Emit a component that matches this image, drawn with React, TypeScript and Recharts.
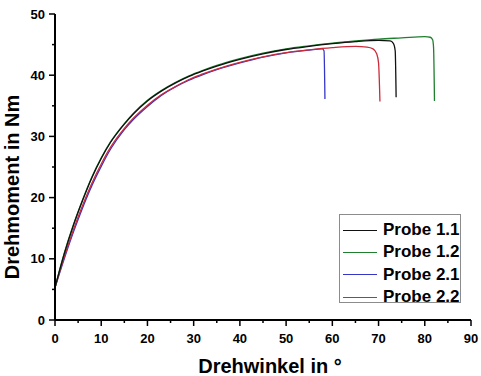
import { LineChart, Line, XAxis, YAxis, Label } from 'recharts';

// angle (°) and torque (Nm)
const probe11Angle = [0, 2, 4, 6, 8, 10, 12, 15, 17, 20, 23, 26, 29, 32, 35, 40, 45, 50, 55, 60, 65, 70, 72.5, 73.2, 73.6, 73.8];
const probe11Torque = [5.3, 10.8, 15.5, 19.6, 23.3, 26.4, 29.0, 32.0, 33.7, 35.8, 37.4, 38.7, 39.8, 40.7, 41.5, 42.6, 43.5, 44.2, 44.7, 45.15, 45.5, 45.7, 45.6, 45.2, 44.0, 36.4];

const probe12Angle = [0, 2, 4, 6, 8, 10, 12, 15, 17, 20, 23, 26, 29, 32, 35, 40, 45, 50, 55, 60, 65, 70, 75, 80, 81.2, 81.7, 81.9, 82.1];
const probe12Torque = [5.3, 10.9, 15.6, 19.7, 23.4, 26.5, 29.1, 32.1, 33.8, 35.9, 37.5, 38.8, 39.9, 40.8, 41.6, 42.7, 43.6, 44.3, 44.8, 45.25, 45.6, 45.9, 46.1, 46.3, 46.2, 45.8, 44.5, 35.8];

const probe21Angle = [0, 2, 4, 6, 8, 10, 12, 15, 17, 20, 23, 26, 29, 32, 35, 40, 45, 50, 55, 57.8, 58.2, 58.4];
const probe21Torque = [5.3, 10.0, 14.4, 18.4, 22.0, 25.1, 27.9, 31.1, 32.8, 34.9, 36.7, 38.1, 39.2, 40.1, 40.9, 42.0, 42.95, 43.65, 44.1, 44.3, 44.0, 36.1];

const probe22Angle = [0, 2, 4, 6, 8, 10, 12, 15, 17, 20, 23, 26, 29, 32, 35, 40, 45, 50, 55, 60, 65, 67.5, 68.8, 69.6, 70.0, 70.3];
const probe22Torque = [5.3, 10.3, 14.8, 18.8, 22.4, 25.5, 28.2, 31.3, 33.0, 35.1, 36.8, 38.1, 39.3, 40.2, 41.0, 42.1, 43.0, 43.7, 44.15, 44.5, 44.7, 44.6, 44.3, 43.5, 42.0, 35.7];

const xTicks = [0, 5, 10, 15, 20, 25, 30, 35, 40, 45, 50, 55, 60, 65, 70, 75, 80, 85, 90];
const yTicks = [0, 5, 10, 15, 20, 25, 30, 35, 40, 45, 50];

const zip = (xs: number[], ys: number[]) => xs.map((x, i) => ({ x, y: ys[i] }));

const series = [
  { name: 'Probe 1.1', color: '#111111', data: zip(probe11Angle, probe11Torque) },
  { name: 'Probe 1.2', color: '#1f7f2e', data: zip(probe12Angle, probe12Torque) },
  { name: 'Probe 2.1', color: '#3535c8', data: zip(probe21Angle, probe21Torque) },
  { name: 'Probe 2.2', color: '#cc2a3a', data: zip(probe22Angle, probe22Torque) },
];

const FONT = '"Liberation Sans", Arial, sans-serif';

const XTick = ({ x, y, payload }: any) => {
  const major = payload.value % 10 === 0;
  return (
    <g>
      <line x1={x} y1={y} x2={x} y2={y + (major ? 6 : 3)} stroke="#000" strokeWidth={1.5} />
      {major && (
        <text x={x} y={y + 23} textAnchor="middle" fontFamily={FONT} fontWeight="bold" fontSize={13} fill="#000">
          {payload.value}
        </text>
      )}
    </g>
  );
};

const YTick = ({ x, y, payload }: any) => {
  const major = payload.value % 10 === 0;
  return (
    <g>
      <line x1={x} y1={y} x2={x - (major ? 6 : 3)} y2={y} stroke="#000" strokeWidth={1.5} />
      {major && (
        <text x={x - 10} y={y + 4.6} textAnchor="end" fontFamily={FONT} fontWeight="bold" fontSize={13} fill="#000">
          {payload.value}
        </text>
      )}
    </g>
  );
};

const LegendBox = () => (
  <div
    style={{
      position: 'absolute',
      left: 339,
      top: 214,
      width: 122,
      height: 89,
      boxSizing: 'border-box',
      border: '1px solid #8c8c8c',
      background: '#fff',
      padding: '4px 0 0 3px',
    }}
  >
    {series.map((s) => (
      <div key={s.name} style={{ display: 'flex', alignItems: 'center', height: 22.3, whiteSpace: 'nowrap' }}>
        <span style={{ display: 'inline-block', width: 34, height: 0, borderTop: `1.2px solid ${s.color}`, marginRight: 6 }} />
        <span style={{ fontFamily: FONT, fontWeight: 'bold', fontSize: 17, color: '#000', lineHeight: '20px' }}>{s.name}</span>
      </div>
    ))}
  </div>
);

const drawOrder = [series[2], series[3], series[1], series[0]];

export default function App() {
  return (
    <div style={{ position: 'absolute', left: 0, top: 0, width: 481, height: 376, background: '#fff' }}>
      <LineChart width={481} height={376} margin={{ top: 14, right: 10, bottom: 0, left: 0 }}>
        <XAxis
          type="number"
          dataKey="x"
          domain={[0, 90]}
          ticks={xTicks}
          interval={0}
          height={56}
          tickSize={0}
          tickMargin={0}
          tickLine={false}
          axisLine={{ stroke: '#000', strokeWidth: 2 }}
          tick={<XTick />}
          allowDataOverflow
        >
          <Label
            content={({ viewBox }: any) => (
              <text
                x={viewBox.x + viewBox.width / 2 + 7}
                y={viewBox.y + 53}
                textAnchor="middle"
                fontFamily={FONT}
                fontWeight="bold"
                fontSize={20}
                fill="#000"
              >
                Drehwinkel in °
              </text>
            )}
          />
        </XAxis>
        <YAxis
          type="number"
          dataKey="y"
          domain={[0, 50]}
          ticks={yTicks}
          interval={0}
          width={55}
          tickSize={0}
          tickMargin={0}
          tickLine={false}
          axisLine={{ stroke: '#000', strokeWidth: 2 }}
          tick={<YTick />}
          allowDataOverflow
        >
          <Label
            content={({ viewBox }: any) => {
              const cx = viewBox.x + 19;
              const cy = viewBox.y + viewBox.height / 2 + 20;
              return (
                <text
                  x={cx}
                  y={cy}
                  transform={`rotate(-90 ${cx} ${cy})`}
                  textAnchor="middle"
                  fontFamily={FONT}
                  fontWeight="bold"
                  fontSize={20}
                  fill="#000"
                >
                  Drehmoment in Nm
                </text>
              );
            }}
          />
        </YAxis>
        {drawOrder.map((s) => (
          <Line
            key={s.name}
            data={s.data}
            dataKey="y"
            name={s.name}
            type="monotone"
            stroke={s.color}
            strokeWidth={1.3}
            dot={false}
            activeDot={false}
            isAnimationActive={false}
          />
        ))}
      </LineChart>
      <LegendBox />
    </div>
  );
}
